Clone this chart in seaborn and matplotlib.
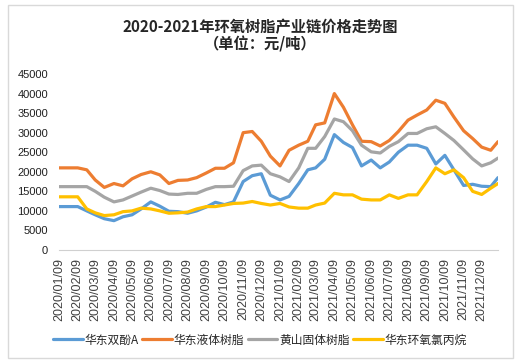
import pandas as pd
import seaborn as sns
import matplotlib.pyplot as plt
import matplotlib.dates as mdates
from matplotlib.patches import Rectangle

# sample dates: 9th and 24th of each month, last point early Jan 2022
dates = [f'{y}-{m:02d}-{d}' for y in (2020, 2021) for m in range(1, 13) for d in ('09', '24')] + ['2022-01-05']

bpa = [11100, 11100, 11100, 10000, 9000, 8000, 7500, 8500, 9000, 10500,
       12300, 11200, 9900, 9800, 9400, 10000, 11000, 12200, 11600, 12300,
       17500, 19000, 19500, 14000, 12800, 13700, 17000, 20500, 21000, 23200,
       29500, 27500, 26200, 21500, 23000, 21000, 22500, 25000, 26800, 26800,
       26000, 22000, 24200, 20500, 16500, 16800, 16300, 16200, 18500]
liquid = [21000, 21000, 21000, 20500, 17900, 16000, 17000, 16400, 18200, 19300,
          20000, 19200, 17000, 17800, 17900, 18500, 19700, 20900, 20900, 22300,
          30000, 30300, 27800, 24000, 21500, 25500, 26800, 27800, 32000, 32500,
          40000, 36500, 32000, 27800, 27700, 26600, 28000, 30300, 33200, 34500,
          35800, 38300, 37500, 34000, 30500, 28500, 26300, 25500, 27700]
solid = [16200, 16200, 16200, 16200, 15000, 13500, 12300, 12800, 13800, 14800,
         15800, 15200, 14300, 14200, 14500, 14500, 15500, 16200, 16200, 16300,
         20300, 21500, 21700, 19500, 18700, 17500, 21000, 26000, 26000, 29000,
         33500, 32800, 30500, 26800, 25100, 24800, 26500, 27700, 29800, 29800,
         31000, 31500, 29800, 28000, 25600, 23300, 21500, 22300, 23500]
ech = [13600, 13600, 13600, 10500, 9500, 8800, 9000, 9800, 10000, 10700,
       10500, 10000, 9400, 9500, 9700, 10500, 11100, 11100, 11500, 11900,
       12000, 12400, 11900, 11500, 11900, 11000, 10700, 10700, 11500, 12000,
       14500, 14100, 14100, 13000, 12800, 12800, 14100, 13200, 14100, 14100,
       17500, 21000, 19500, 20500, 18500, 15000, 14200, 15800, 17000]

names = ['华东双酚A', '华东液体树脂', '黄山固体树脂', '华东环氧氯丙烷']
colors = ['#5B9BD5', '#ED7D31', '#A5A5A5', '#FFC000']

rows = []
for name, vals in zip(names, [bpa, liquid, solid, ech]):
    for d, v in zip(dates, vals):
        rows.append({'date': pd.Timestamp(d), 'price': v, 'series': name})
df = pd.DataFrame(rows)

sns.set_style('white')
plt.rcParams['font.family'] = ['Noto Sans CJK SC', 'DejaVu Sans']

fig = plt.figure(figsize=(5.2, 3.63), dpi=100)
ax = fig.add_axes([59 / 520, 113 / 363, 439 / 520, 176 / 363])

sns.lineplot(data=df, x='date', y='price', hue='series', hue_order=names,
             palette=colors, linewidth=2.3, ax=ax)

ax.set_xlim(pd.Timestamp('2020-01-09'), pd.Timestamp('2022-01-05'))
ax.set_ylim(0, 45000)
ax.set_yticks(range(0, 45001, 5000))
ticks = pd.date_range('2020-01-01', '2021-12-01', freq='MS') + pd.Timedelta(days=8)
ax.set_xticks(ticks)
ax.xaxis.set_major_formatter(mdates.DateFormatter('%Y/%m/%d'))
for lab in ax.get_xticklabels():
    lab.set_rotation(90)
    lab.set_fontfamily('Liberation Sans')
    lab.set_fontsize(9)
    lab.set_color('#404040')
for lab in ax.get_yticklabels():
    lab.set_fontfamily('Liberation Sans')
    lab.set_fontsize(8)
    lab.set_color('#202020')
ax.tick_params(axis='y', length=0, pad=8)
ax.tick_params(axis='x', length=4, color='#bfbfbf', width=0.8, pad=2)
ax.set_xlabel('')
ax.set_ylabel('')
for s in ['top', 'right', 'left']:
    ax.spines[s].set_visible(False)
ax.spines['bottom'].set_color('#d0d0d0')
ax.spines['bottom'].set_linewidth(0.8)

h, l = ax.get_legend_handles_labels()
ax.legend(h, l, loc='center', bbox_to_anchor=(0.5, 23 / 363), bbox_transform=fig.transFigure,
          ncol=4, frameon=False, fontsize=8.5, handlelength=2.5, handletextpad=0.15,
          columnspacing=0.3, borderaxespad=0)

fig.text(0.5, 1 - 27 / 363, '2020-2021年环氧树脂产业链价格走势图', ha='center', va='center',
         fontsize=11, fontweight='bold')
fig.text(0.5, 1 - 44 / 363, '（单位：元/吨）', ha='center', va='center',
         fontsize=11, fontweight='bold')

fig.patches.append(Rectangle((8 / 520, 5 / 363), 505 / 520, 353 / 363, transform=fig.transFigure,
                             fill=False, edgecolor='#d9d9d9', linewidth=1))

fig.savefig('out.png', dpi=100)
